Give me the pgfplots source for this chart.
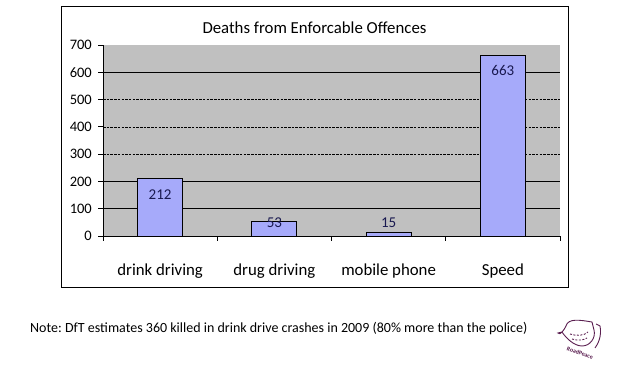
\documentclass[border=0pt]{standalone}
\usepackage{pgfplots}
\pgfplotsset{compat=1.18}
\usepackage{fontspec}
\setmainfont{Carlito}
\frenchspacing
\definecolor{barfill}{RGB}{166,170,250}
\definecolor{plotbg}{RGB}{192,192,192}
\definecolor{lbl}{RGB}{25,25,80}
\definecolor{logo}{RGB}{90,30,80}
\begin{document}
\begin{tikzpicture}[x=1pt,y=1pt]
\path[use as bounding box] (0,0) rectangle (628,366);
\draw[line width=1pt] (61,78) rectangle (568,359);
\node[anchor=base, font=\fontsize{16.8}{20}\selectfont, inner sep=0pt] at (314.5,332) {Deaths from Enforcable Offences};
\begin{axis}[
  at={(103pt,130pt)}, anchor=south west,
  scale only axis, width=457pt, height=191pt,
  xmin=-0.5, xmax=3.5, ymin=0, ymax=700,
  axis x line*=bottom, axis y line*=left,
  axis line style={line width=0.8pt, black},
  axis background/.style={fill=plotbg},
  ytick={0,100,...,700},
  tick align=outside, major tick length=5pt,
  ytick style={draw=black, line width=0.8pt},
  yticklabel style={font=\fontsize{14.5}{16}\selectfont, anchor=east, inner sep=0pt, xshift=-6pt},
  /pgf/number format/assume math mode=true,
  xtick={0,1,2,3},
  xticklabels={drink driving, drug driving, mobile phone, Speed},
  xtick style={draw=none},
  xticklabel style={font=\fontsize{16.8}{20}\selectfont, anchor=base, inner sep=0pt, yshift=-35pt},
  extra x ticks={-0.5,0.5,1.5,2.5,3.5},
  extra x tick labels={},
  extra x tick style={xtick style={draw=black, line width=0.8pt}},
  clip=false,
]
\draw[black, line width=0.7pt] (axis cs:-0.5,100) -- (axis cs:3.5,100);
\draw[black, line width=0.7pt] (axis cs:-0.5,200) -- (axis cs:3.5,200);
\draw[black, line width=0.7pt, dash pattern=on 2.5pt off 1.2pt] (axis cs:-0.5,300) -- (axis cs:3.5,300);
\draw[black, line width=0.7pt, dash pattern=on 2.5pt off 1.2pt] (axis cs:-0.5,400) -- (axis cs:3.5,400);
\draw[black, line width=0.7pt, dash pattern=on 2.5pt off 1.2pt] (axis cs:-0.5,500) -- (axis cs:3.5,500);
\draw[black, line width=0.7pt] (axis cs:-0.5,600) -- (axis cs:3.5,600);
\addplot[ybar, bar width=45pt, fill=barfill, draw=black, line width=0.8pt]
  coordinates {(0,212) (1,53) (2,15) (3,663)};
\addplot[draw=none, mark=none, nodes near coords, point meta=explicit symbolic,
  nodes near coords align={center},
  every node near coord/.append style={font=\fontsize{15}{17}\selectfont, text=lbl, inner sep=0pt}]
  coordinates {(0,150) [212] (1,48) [53] (2,48) [15] (3,608) [663]};
\end{axis}
\node[anchor=base west, font=\fontsize{14}{16}\selectfont, inner sep=0pt] at (30,33) {Note: DfT estimates 360 killed in drink drive crashes in 2009 (80\% more than the police)};
% logo
\begin{scope}[logo, line width=0.9pt]
\draw (566,40) .. controls (568,48) and (580,46) .. (592,44) -- (594,36) .. controls (596,28) and (590,20) .. (582,20) .. controls (574,20) and (566,28) .. (562,34) -- (558,33) .. controls (560,30) and (564,36) .. (566,40);
\draw[dash pattern=on 2pt off 1.5pt] (570,32) .. controls (576,30) and (584,30) .. (588,34);
\draw[dash pattern=on 2pt off 1.5pt] (572,27) .. controls (578,25) and (584,26) .. (587,28);
\draw (596,42) -- (600,40) .. controls (602,30) and (598,22) .. (595,18);
\end{scope}
\node[logo, font=\bfseries\fontsize{6}{7}\selectfont, rotate=-20, inner sep=0pt] at (580,13) {RoadPeace};
\end{tikzpicture}
\end{document}
